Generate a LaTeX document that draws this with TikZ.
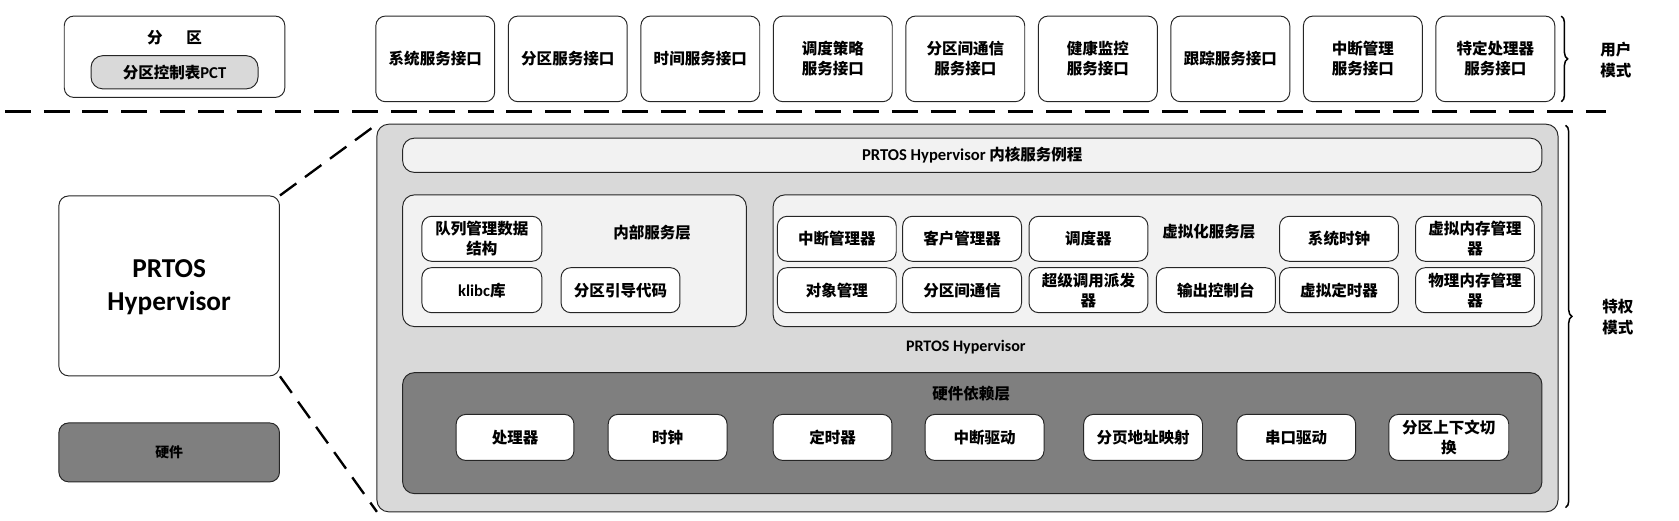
\documentclass[tikz,border=0pt]{standalone}
\usepackage{fontspec}
\newfontfamily\cjk{Noto Sans CJK SC}
\newfontfamily\lat{Carlito}
\usetikzlibrary{decorations.pathreplacing}
\definecolor{lg}{HTML}{D9D9D9}
\definecolor{vl}{HTML}{F2F2F2}
\definecolor{dg}{HTML}{7F7F7F}
\newcommand\bx[7][]{\node[rbox,#1,minimum width={(#5)-(#3)},minimum height={(#6)-(#4)}] (#2) at ({((#3)+(#5))/2},{((#4)+(#6))/2}) {#7};}
\begin{document}
\begin{tikzpicture}[x=1pt,y=-1pt,
  every node/.style={font=\cjk\bfseries\fontsize{14.5}{18.5}\selectfont, align=center, inner sep=0pt, text=black},
  rbox/.style={draw=black!85, line width=0.9pt, rounded corners=9pt, fill=white},
  sep/.style={line width=2.6pt, dash pattern=on 24pt off 12pt},
  zoomline/.style={line width=2.2pt, dash pattern=on 19pt off 10pt},
  brc/.style={decorate, decoration={brace, amplitude=6pt}, line width=1.4pt},
  lbl/.style={font=\cjk\bfseries\fontsize{14.5}{20}\selectfont}]
\useasboundingbox (0,0) rectangle (1568,486);

% separator
\coordinate (sl) at (5,104);
\coordinate (sr) at (1500,104);
\draw[sep] (sl) -- (sr);

% left column
\bx{part}{60}{15}{266}{91}{}
\node[lbl] (parttitle) at (163,35) {分\hspace{22pt}区};
\bx[fill=lg, rounded corners=11pt, font=\cjk\bfseries\fontsize{14.5}{18}\selectfont]{pct}{85}{52}{241}{83}{分区控制表{\lat\fontsize{15.5}{18}\selectfont PCT}}
\bx{hv}{55}{183}{261}{351}{}
\node[font=\lat\bfseries\fontsize{25.5}{31}\selectfont] (hvtxt) at (158,268) {PRTOS\\Hypervisor};
\bx[fill=dg, font=\cjk\bfseries\fontsize{13}{16}\selectfont]{hw}{55}{395}{261}{450}{硬件}

% top boxes
\foreach \t [count=\i from 0] in {系统服务接口,分区服务接口,时间服务接口,{调度策略\\服务接口},{分区间通信\\服务接口},{健康监控\\服务接口},跟踪服务接口,{中断管理\\服务接口},{特定处理器\\服务接口}}{
  \bx{top\i}{351+\i*123.75}{15}{462+\i*123.75}{95}{\t}
}
\draw[brc] (1458,15) -- (1458,95);
\node[lbl] (umode) at (1509,56) {用户\\模式};

% zoom lines
\draw[zoomline] (hv.north east) -- (352,116);
\draw[zoomline] (hv.south east) -- (352,478);

% big box
\bx[fill=lg, rounded corners=11pt]{big}{352}{116}{1455}{478}{}
\draw[brc] (1462,117) -- (1462,474);
\node[lbl] (pmode) at (1511,296) {特权\\模式};

\bx[fill=vl, rounded corners=11pt]{ksr}{376}{129}{1440}{161}{{\lat\fontsize{15.5}{18}\selectfont PRTOS Hypervisor} 内核服务例程}

% internal service layer
\bx[fill=vl, rounded corners=11pt]{isl}{376}{182}{697}{305}{}
\node[lbl] (isltxt) at (609,217) {内部服务层};
\bx{queue}{394}{202}{506}{244}{队列管理数据\\结构}
\bx{klibc}{394}{250}{506}{292}{{\lat\fontsize{15.5}{18}\selectfont klibc}库}
\bx{boot}{524}{250}{635}{292}{分区引导代码}

% virtualization service layer
\bx[fill=vl, rounded corners=11pt]{vsl}{722}{182}{1440}{305}{}
\node[lbl] (vsltxt) at (1129,216) {虚拟化服务层};
\bx{irqm}{726}{202}{837}{244}{中断管理器}
\bx{guest}{843}{202}{954}{244}{客户管理器}
\bx{sched}{961}{202}{1072}{244}{调度器}
\bx{sysclk}{1195}{202}{1306}{244}{系统时钟}
\bx{vmem}{1322}{202}{1433}{244}{虚拟内存管理\\器}
\bx{objm}{726}{250}{837}{292}{对象管理}
\bx{ipc}{843}{250}{954}{292}{分区间通信}
\bx{hcall}{961}{250}{1072}{292}{超级调用派发\\器}
\bx{cons}{1080}{250}{1191}{292}{输出控制台}
\bx{vtimer}{1195}{250}{1306}{292}{虚拟定时器}
\bx{pmem}{1322}{250}{1433}{292}{物理内存管理\\器}

\node[font=\lat\bfseries\fontsize{15}{18}\selectfont] (hvlbl) at (902,324) {PRTOS Hypervisor};

% hardware dependent layer
\bx[fill=dg, rounded corners=11pt]{hdl}{376}{348}{1440}{461}{}
\node[lbl] (hdltxt) at (907,368) {硬件依赖层};
\bx{cpu}{426}{387}{536}{430}{处理器}
\bx{clk}{568}{387}{679}{430}{时钟}
\bx{tmr}{722}{387}{833}{430}{定时器}
\bx{irqd}{864}{387}{975}{430}{中断驱动}
\bx{page}{1012}{387}{1123}{430}{分页地址映射}
\bx{uart}{1155}{387}{1266}{430}{串口驱动}
\bx{ctx}{1297}{387}{1409}{430}{分区上下文切\\换}
\end{tikzpicture}
\end{document}
